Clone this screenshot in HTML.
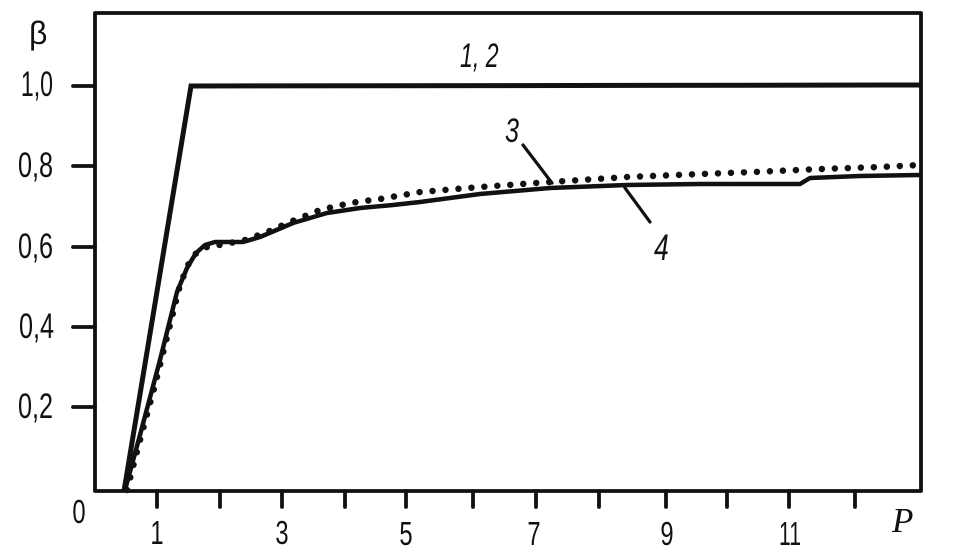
<!DOCTYPE html>
<html>
<head>
<meta charset="utf-8">
<style>
  html, body { margin: 0; padding: 0; background: #fff; }
  svg { display: block; }
  .lbl { font-family: "Liberation Sans", sans-serif; font-size: 35px; fill: #111; }
  .xl { font-family: "Liberation Sans", sans-serif; font-size: 33px; fill: #111; }
</style>
</head>
<body>
<svg width="980" height="558" viewBox="0 0 980 558" xmlns="http://www.w3.org/2000/svg">
  <rect width="980" height="558" fill="#fff"/>

  <!-- frame -->
  <path d="M95,13 L921,13 L921,491 L95,491 Z" fill="none" stroke="#111" stroke-width="3.8" stroke-linejoin="round"/>

  <!-- y ticks -->
  <g stroke="#111" stroke-width="3.8" stroke-linecap="round">
    <line x1="73" y1="86" x2="95" y2="86"/>
    <line x1="73" y1="166" x2="95" y2="166"/>
    <line x1="73" y1="247" x2="95" y2="247"/>
    <line x1="73" y1="327" x2="95" y2="327"/>
    <line x1="73" y1="407" x2="95" y2="407"/>
  </g>

  <!-- x ticks -->
  <g stroke="#111" stroke-width="3.8" stroke-linecap="round">
    <line x1="157" y1="491" x2="157" y2="507"/>
    <line x1="220" y1="491" x2="220" y2="507"/>
    <line x1="282" y1="491" x2="282" y2="507"/>
    <line x1="345" y1="491" x2="345" y2="507"/>
    <line x1="406" y1="491" x2="406" y2="507"/>
    <line x1="473" y1="491" x2="473" y2="507"/>
    <line x1="536" y1="491" x2="536" y2="507"/>
    <line x1="599" y1="491" x2="599" y2="507"/>
    <line x1="666" y1="491" x2="666" y2="507"/>
    <line x1="727" y1="491" x2="727" y2="507"/>
    <line x1="789" y1="491" x2="789" y2="507"/>
    <line x1="855" y1="491" x2="855" y2="507"/>
  </g>

  <!-- curve 1,2 -->
  <path d="M124,491 L191,86 L921,85" fill="none" stroke="#111" stroke-width="5" stroke-linejoin="miter"/>

  <!-- curve 4 (solid) -->
  <path d="M125,490 L140,435 L160,360 L177,292 L187,268 L196,253 L205,245 L215,242 L243,242 L260,237 L293,223 L327,213 L360,208 L393,205 L420,202 L480,194 L550,188 L627,185 L700,184 L800,184 L810,178 L860,176 L920,175"
        fill="none" stroke="#111" stroke-width="4.5" stroke-linejoin="round"/>

  <!-- curve 3 (dotted) -->
  <path d="M127,490 L140,440 L155,385 L170,325 L180,285 L188,265 L197,252 L207,247 L225,244 L245,240 L265,233 L290,222 L320,210 L350,203 L380,199 L420,192 L480,187 L550,182 L627,177 L700,174 L753,172 L820,169 L880,167 L920,165"
        fill="none" stroke="#111" stroke-width="6.5" stroke-linecap="round" stroke-dasharray="0 13"/>

  <!-- leader lines -->
  <g stroke="#111" stroke-width="3.2" stroke-linecap="round">
    <line x1="523" y1="145" x2="552" y2="183"/>
    <line x1="625" y1="188" x2="650" y2="222"/>
  </g>

  <!-- y labels -->
  <g class="lbl">
    <text transform="translate(53,96) scale(0.66,1)" text-anchor="end">1,0</text>
    <text transform="translate(53,177) scale(0.72,1)" text-anchor="end">0,8</text>
    <text transform="translate(53,258) scale(0.72,1)" text-anchor="end">0,6</text>
    <text transform="translate(54,338) scale(0.72,1)" text-anchor="end">0,4</text>
    <text transform="translate(53,418) scale(0.72,1)" text-anchor="end">0,2</text>
  </g>
  <text x="29" y="44" font-family="Liberation Sans, DejaVu Sans, sans-serif" font-size="32" fill="#111">β</text>

  <!-- x labels -->
  <g class="xl" text-anchor="middle">
    <text transform="translate(79,523) scale(0.72,1)">0</text>
    <text transform="translate(157,544) scale(0.72,1)">1</text>
    <text transform="translate(282,544) scale(0.72,1)">3</text>
    <text transform="translate(406,545) scale(0.72,1)">5</text>
    <text transform="translate(534,545) scale(0.72,1)">7</text>
    <text transform="translate(667,545) scale(0.72,1)">9</text>
    <text transform="translate(790,545) scale(0.64,1)">11</text>
  </g>
  <text x="892" y="532" font-family="Liberation Serif, serif" font-style="italic" font-size="35" fill="#111">P</text>

  <!-- series labels -->
  <g class="lbl" font-style="italic">
    <text transform="translate(460,67) scale(0.68,1)" font-size="34">1, 2</text>
    <text transform="translate(505,142) scale(0.74,1)" font-size="34">3</text>
    <text transform="translate(654,260) scale(0.72,1)" font-size="37">4</text>
  </g>
</svg>
</body>
</html>
